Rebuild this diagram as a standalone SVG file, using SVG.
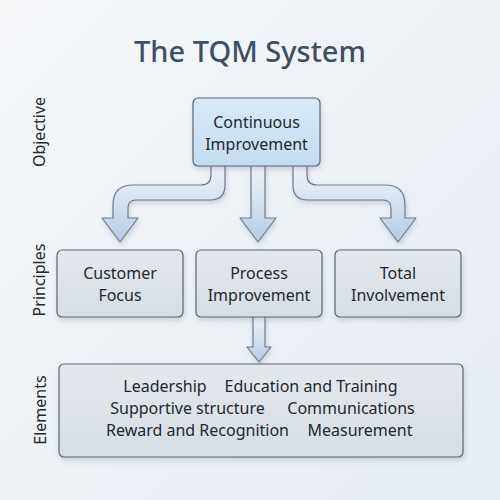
<svg xmlns="http://www.w3.org/2000/svg" width="500" height="500" viewBox="0 0 500 500">
<defs>
<linearGradient id="bg" x1="0" y1="0" x2="1" y2="1">
<stop offset="0" stop-color="#f6f8fa"/>
<stop offset="0.5" stop-color="#edf2f7"/>
<stop offset="1" stop-color="#e6edf3"/>
</linearGradient>
<linearGradient id="arr" x1="0" y1="0" x2="0" y2="1">
<stop offset="0" stop-color="#f1f5f9"/>
<stop offset="1" stop-color="#b7cbe4"/>
</linearGradient>
<linearGradient id="blue" x1="0" y1="0" x2="0" y2="1">
<stop offset="0" stop-color="#d9e9f6"/>
<stop offset="1" stop-color="#c4dcf0"/>
</linearGradient>
<linearGradient id="gray" x1="0" y1="0" x2="0" y2="1">
<stop offset="0" stop-color="#e3e8ed"/>
<stop offset="1" stop-color="#d6dde4"/>
</linearGradient>
<filter id="sh" x="-20%" y="-20%" width="140%" height="150%">
<feDropShadow dx="1" dy="3" stdDeviation="2.5" flood-color="#5a6a7a" flood-opacity="0.25"/>
</filter>
</defs>
<style>
.t{font-family:"Noto Sans","DejaVu Sans",sans-serif;fill:#24282e;text-anchor:middle}
.box{stroke:#5c6875;stroke-width:1.2}
.a{fill:url(#arr);stroke:#6b7c8d;stroke-width:1.2;stroke-linejoin:round}
.lab{font-size:16px}
.n{font-size:16px}
</style>
<rect width="500" height="500" fill="url(#bg)"/>
<text x="250" y="62" class="t" style="font-size:29px;font-weight:500;fill:#3e5064">The TQM System</text>

<text class="t lab" transform="translate(45,132) rotate(-90)">Objective</text>
<text class="t lab" transform="translate(45,280) rotate(-90)">Principles</text>
<text class="t lab" transform="translate(46,410) rotate(-90)">Elements</text>

<g id="connectors" filter="url(#sh)">
<path class="a" d="M211,164 V175 Q211,185 201,185 H133 Q113,185 113,205 V218 H102 L120,242 L138,218 H128 V208 Q128,200 136,200 H210 Q225,200 225,185 V164 Z"/>
<path class="a" d="M251,164 V218 H240 L258,242 L276,218 H265 V164 Z"/>
<path class="a" d="M293,164 V185 Q293,200 308,200 H383 Q391,200 391,208 V218 H380 L398,242 L416,218 H405 V205 Q405,185 385,185 H317 Q307,185 307,175 V164 Z"/>
<path class="a" d="M253,316 V347 H247 L259,362 L271,347 H265 V316 Z"/>
</g>

<g id="continuous-improvement">
<rect class="box" x="193" y="98" width="127" height="68" rx="5" fill="url(#blue)" filter="url(#sh)"/>
<text class="t n" x="256.5" y="128">Continuous</text>
<text class="t n" x="256.5" y="150">Improvement</text>
</g>

<g id="customer-focus">
<rect class="box" x="57" y="250" width="126" height="67" rx="5" fill="url(#gray)" filter="url(#sh)"/>
<text class="t n" x="120" y="279">Customer</text>
<text class="t n" x="120" y="301">Focus</text>
</g>

<g id="process-improvement">
<rect class="box" x="196" y="250" width="126" height="67" rx="5" fill="url(#gray)" filter="url(#sh)"/>
<text class="t n" x="259" y="279">Process</text>
<text class="t n" x="259" y="301">Improvement</text>
</g>

<g id="total-involvement">
<rect class="box" x="335" y="250" width="126" height="67" rx="5" fill="url(#gray)" filter="url(#sh)"/>
<text class="t n" x="398" y="279">Total</text>
<text class="t n" x="398" y="301">Involvement</text>
</g>

<g id="elements">
<rect class="box" x="59" y="364" width="404" height="93" rx="5" fill="url(#gray)" filter="url(#sh)"/>
<text class="t n" x="165" y="392">Leadership</text>
<text class="t n" x="311" y="392">Education and Training</text>
<text class="t n" x="187.5" y="414">Supportive structure</text>
<text class="t n" x="351" y="414">Communications</text>
<text class="t n" x="197.5" y="436">Reward and Recognition</text>
<text class="t n" x="360" y="436">Measurement</text>
</g>
</svg>
